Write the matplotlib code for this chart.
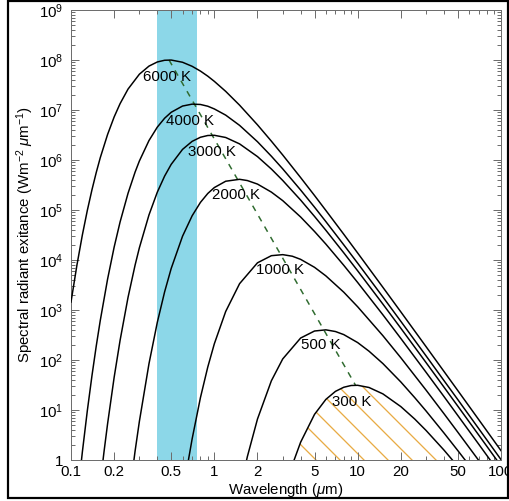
import matplotlib
matplotlib.use('Agg')
import matplotlib.pyplot as plt
from matplotlib.patches import Rectangle
from matplotlib.ticker import LogLocator, NullFormatter

plt.rcParams['font.family'] = ['Liberation Sans', 'DejaVu Sans']
plt.rcParams['mathtext.fontset'] = 'custom'
plt.rcParams['mathtext.rm'] = 'Liberation Sans'
plt.rcParams['mathtext.it'] = 'Liberation Sans:italic'
plt.rcParams['hatch.linewidth'] = 1.3

# spectral radiant exitance (W m^-2 um^-1)
temps = [6000, 4000, 3000, 2000, 1000, 500, 300]

wl_6000 = [0.1, 0.11, 0.12, 0.13, 0.14, 0.15, 0.16, 0.18, 0.2, 0.22, 0.25, 0.3, 0.35, 0.4, 0.45,
           0.5, 0.6, 0.7, 0.8, 0.9, 1.0, 1.2, 1.5, 2, 2.5, 3, 4, 5, 6, 8, 10, 15, 20, 30, 40, 50, 70, 100]
m_6000 = [1.44e3, 7.92e3, 3.16e4, 9.83e4, 2.53e5, 5.62e5, 1.11e6, 3.24e6, 7.26e6, 1.34e7, 2.62e7, 5.20e7,
          7.55e7, 9.13e7, 9.88e7, 9.98e7, 9.01e7, 7.48e7, 6.00e7, 4.75e7, 3.74e7, 2.36e7, 1.25e7, 5.05e6,
          2.38e6, 1.26e6, 4.45e5, 1.95e5, 9.79e4, 3.27e4, 1.38e4, 2.84e3, 918, 185, 59.1, 24.4, 6.39, 1.54]

wl_4000 = [0.11, 0.12, 0.13, 0.14, 0.15, 0.16, 0.18, 0.2, 0.22, 0.25, 0.28, 0.3, 0.35, 0.4, 0.45,
           0.5, 0.6, 0.7, 0.8, 0.9, 1.0, 1.2, 1.5, 2, 2.5, 3, 4, 5, 6, 8, 10, 15, 20, 30, 40, 50, 70, 100]
m_4000 = [0.146, 1.44, 9.70, 48.3, 190, 615, 4.15e3, 1.81e4, 5.76e4, 2.16e5, 5.73e5, 9.56e5, 2.45e6,
          4.54e6, 6.85e6, 9.00e6, 1.20e7, 1.31e7, 1.29e7, 1.19e7, 1.05e7, 7.90e6, 4.93e6, 2.32e6, 1.19e6,
          6.65e5, 2.51e5, 1.14e5, 5.86e4, 2.01e4, 8.64e3, 1.82e3, 594, 121, 38.8, 16.1, 4.22, 1.02]

wl_3000 = [0.16, 0.17, 0.18, 0.2, 0.22, 0.25, 0.28, 0.3, 0.35, 0.4, 0.45, 0.5, 0.6, 0.7, 0.8, 0.9,
           1.0, 1.2, 1.5, 2, 2.5, 3, 4, 5, 6, 8, 10, 15, 20, 30, 40, 50, 70, 100]
m_3000 = [0.342, 1.47, 5.31, 45.0, 247, 1.79e3, 7.91e3, 1.76e4, 7.97e4, 2.27e5, 4.77e5, 8.18e5, 1.63e6,
          2.36e6, 2.85e6, 3.09e6, 3.12e6, 2.82e6, 2.10e6, 1.17e6, 6.60e5, 3.90e5, 1.58e5, 7.44e4, 3.93e4,
          1.39e4, 6.08e3, 1.31e3, 432, 88.8, 28.7, 11.9, 3.14, 0.762]

wl_2000 = [0.25, 0.28, 0.3, 0.35, 0.4, 0.45, 0.5, 0.6, 0.7, 0.8, 0.9, 1.0, 1.2, 1.5, 1.7, 2, 2.5, 3,
           4, 5, 6, 8, 10, 15, 20, 30, 40, 50, 70, 100]
m_2000 = [0.122, 1.51, 5.93, 84.4, 565, 2.31e3, 6.76e3, 2.99e4, 7.66e4, 1.42e5, 2.14e5, 2.81e5, 3.76e5,
          4.11e5, 3.88e5, 3.30e5, 2.28e5, 1.54e5, 7.25e4, 3.72e4, 2.08e4, 7.83e3, 3.55e3, 801, 270, 56.8,
          18.6, 7.74, 2.06, 0.502]

wl_1000 = [0.6, 0.65, 0.7, 0.8, 0.9, 1.0, 1.2, 1.5, 2, 2.5, 3, 3.5, 4, 5, 6, 8, 10, 15, 20, 30, 40,
           50, 70, 100]
m_1000 = [0.185, 0.786, 2.64, 17.7, 72.3, 211, 933, 3.36e3, 8.79e3, 1.22e4, 1.28e4, 1.19e4, 1.03e4,
          7.14e3, 4.81e3, 2.27e3, 1.16e3, 306, 111, 25.0, 8.44, 3.59, 0.976, 0.242]

wl_500 = [1.5, 1.7, 2, 2.5, 3, 4, 5, 6, 7, 8, 10, 12, 15, 20, 25, 30, 40, 50, 60, 70]
m_500 = [0.230, 1.17, 6.60, 38.4, 105, 275, 380, 401, 371, 322, 223, 150, 84.8, 36.4, 17.7, 9.57,
         3.47, 1.54, 0.782, 0.438]

wl_300 = [3, 3.5, 4, 5, 6, 7, 8, 9, 10, 12, 15, 20, 25, 30, 40, 50, 60]
m_300 = [0.176, 0.797, 2.27, 8.18, 16.3, 23.6, 28.5, 30.9, 31.2, 28.2, 21.0, 11.7, 6.60, 3.90, 1.58,
         0.744, 0.393]

# curve peaks (Wien displacement)
peak_wl = [0.483, 0.725, 0.966, 1.45, 2.90, 5.80, 9.66]
peak_m = [1.00e8, 1.32e7, 3.13e6, 4.12e5, 1.29e4, 402, 31.3]

visible_band = [0.4, 0.76]

xtick_vals = [0.1, 0.2, 0.5, 1, 2, 5, 10, 20, 50, 100]
xtick_labels = ['0.1', '0.2', '0.5', '1', '2', '5', '10', '20', '50', '100']

curves = [(wl_6000, m_6000), (wl_4000, m_4000), (wl_3000, m_3000), (wl_2000, m_2000),
          (wl_1000, m_1000), (wl_500, m_500), (wl_300, m_300)]
label_pos = [(0.467, 4.6e7), (0.675, 6.0e6), (0.96, 1.45e6), (1.41, 2.0e5),
             (2.86, 6.3e3), (5.52, 200), (9.08, 14.5)]

fig = plt.figure(figsize=(509 / 72, 501 / 72), dpi=72)
ax = fig.add_axes([71 / 509, 41 / 501, 430 / 509, 450 / 501])

ax.axvspan(visible_band[0], visible_band[1], color='#8cd7e8', lw=0, zorder=0)
ax.fill_between(wl_300, 1, m_300, facecolor='none', edgecolor='#e8ac45', hatch='\\', lw=0, zorder=1)

for wl, m in curves:
    ax.plot(wl, m, color='black', lw=1.5, zorder=3)

ax.plot(peak_wl, peak_m, color='#2f6b2f', lw=1.5, dashes=(4, 4), zorder=2)

for t, (x, y) in zip(temps, label_pos):
    ax.text(x, y, f'{t} K', ha='center', va='center', fontsize=15, zorder=4)

ax.set_xscale('log')
ax.set_yscale('log')
ax.set_xlim(0.1, 100)
ax.set_ylim(1, 1e9)

ax.set_xticks(xtick_vals, xtick_labels)
ax.xaxis.set_minor_locator(LogLocator(base=10, subs=range(1, 10), numticks=20))
ax.xaxis.set_minor_formatter(NullFormatter())
ax.set_yticks([10 ** k for k in range(10)], ['1'] + [f'$10^{{{k}}}$' for k in range(1, 10)])
ax.yaxis.set_minor_locator(LogLocator(base=10, subs=range(2, 10), numticks=20))
ax.yaxis.set_minor_formatter(NullFormatter())

ax.tick_params(which='both', direction='in', top=True, right=True, color='#6e6e6e', width=1)
ax.tick_params(which='major', length=8, labelsize=15, pad=5)
ax.tick_params(axis='y', which='major', pad=8)
ax.tick_params(which='minor', length=4)
for s in ax.spines.values():
    s.set_color('#6e6e6e')
    s.set_linewidth(1)

ax.set_xlabel('Wavelength ($\\mathit{\\mu}$m)', fontsize=15, labelpad=2)
ax.set_ylabel('Spectral radiant exitance (Wm$^{-2}$ $\\mathit{\\mu}$m$^{-1}$)', fontsize=15, labelpad=3)

fig.patches.append(Rectangle((8.3 / 509, 3.5 / 501), 499.7 / 509, 496.5 / 501, transform=fig.transFigure,
                             fill=False, lw=2.2, ec='black'))

fig.savefig('out.png', dpi=72)
